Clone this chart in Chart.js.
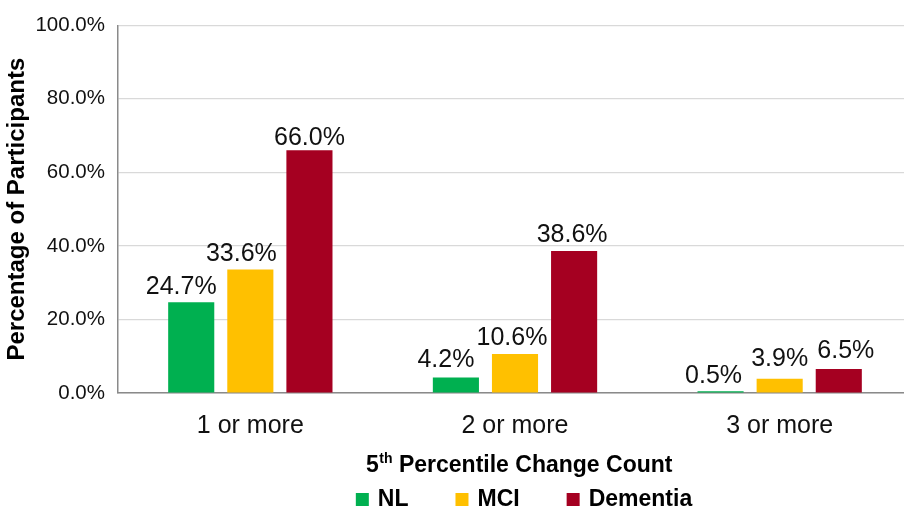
<!DOCTYPE html>
<html>
<head>
<meta charset="utf-8">
<script src="https://cdn.jsdelivr.net/npm/chart.js@4.4.1/dist/chart.umd.min.js"></script>
<style>
  html, body { margin: 0; padding: 0; background: #ffffff; overflow: hidden; }
  #wrap { position: relative; width: 912px; height: 510px; }
</style>
</head>
<body>
<div id="wrap"><canvas id="chart" width="912" height="510"></canvas></div>
<script>
// Share of participants by number of 5th-percentile changes, per diagnostic group
const categories = ['1 or more', '2 or more', '3 or more'];
const seriesNames = ['NL', 'MCI', 'Dementia'];
const nlValues = [24.7, 4.2, 0.5];
const mciValues = [33.6, 10.6, 3.9];
const dementiaValues = [66.0, 38.6, 6.5];
const yTickValues = [0, 20, 40, 60, 80, 100];
const yAxisTitle = 'Percentage of Participants';
const xTitleMain = '5';
const xTitleSup = 'th';
const xTitleRest = ' Percentile Change Count';

const seriesColors = ['#00B050', '#FFC000', '#A50021'];
const FONT = '"Liberation Sans", Arial, Helvetica, sans-serif';

// small nudges for value labels (dx, dy in px), per series then per category
const labelNudge = [
  [[-10, 0], [-10, -3], [-7, 0]],
  [[-9, 0], [-3, -1], [0, -5]],
  [[0, 3], [-2, -1], [7, -3]]
];

const valueLabels = {
  id: 'valueLabels',
  afterDatasetsDraw(chart) {
    const ctx = chart.ctx;
    ctx.save();
    ctx.font = '25px ' + FONT;
    ctx.fillStyle = '#111111';
    ctx.textAlign = 'center';
    ctx.textBaseline = 'alphabetic';
    chart.data.datasets.forEach((ds, di) => {
      const meta = chart.getDatasetMeta(di);
      meta.data.forEach((bar, i) => {
        const n = labelNudge[di][i];
        ctx.fillText(ds.data[i].toFixed(1) + '%', bar.x + n[0], bar.y - 8 + n[1]);
      });
    });
    ctx.restore();
  }
};

const bottomTexts = {
  id: 'bottomTexts',
  afterDraw(chart) {
    const ctx = chart.ctx;
    ctx.save();
    ctx.fillStyle = '#000000';
    ctx.textBaseline = 'alphabetic';
    ctx.textAlign = 'left';

    // axis title with superscript ordinal
    const mainFont = 'bold 23px ' + FONT;
    const supFont = 'bold 14px ' + FONT;
    ctx.font = mainFont;
    const w1 = ctx.measureText(xTitleMain).width;
    const w3 = ctx.measureText(xTitleRest).width;
    ctx.font = supFont;
    const w2 = ctx.measureText(xTitleSup).width;
    const cx = 519, baseY = 471.5;
    let x = cx - (w1 + w2 + w3) / 2;
    ctx.font = mainFont;
    ctx.fillText(xTitleMain, x, baseY);
    x += w1;
    ctx.font = supFont;
    ctx.fillText(xTitleSup, x + 0.5, baseY - 9);
    x += w2 + 0.5;
    ctx.font = mainFont;
    ctx.fillText(xTitleRest, x, baseY);

    // legend
    const box = 13, textGap = 9, itemGap = 47;
    ctx.font = 'bold 23px ' + FONT;
    const items = chart.data.datasets.map(ds => ({
      label: ds.label, color: ds.backgroundColor, w: ctx.measureText(ds.label).width
    }));
    const total = items.reduce((s, it) => s + box + textGap + it.w, 0) + itemGap * (items.length - 1);
    let lx = 524 - total / 2;
    const legBase = 506;
    items.forEach(it => {
      ctx.fillStyle = it.color;
      ctx.fillRect(lx, legBase - box, box, box);
      ctx.fillStyle = '#000000';
      ctx.fillText(it.label, lx + box + textGap, legBase);
      lx += box + textGap + it.w + itemGap;
    });
    ctx.restore();
  }
};

const seriesData = [nlValues, mciValues, dementiaValues];

new Chart(document.getElementById('chart'), {
  type: 'bar',
  data: {
    labels: categories,
    datasets: seriesNames.map((name, i) => ({
      label: name,
      data: seriesData[i],
      backgroundColor: seriesColors[i],
      borderWidth: 0,
      barPercentage: 0.78,
      categoryPercentage: 0.67
    }))
  },
  options: {
    responsive: false,
    devicePixelRatio: 1,
    animation: false,
    layout: { padding: { top: 21, right: 0, bottom: 0, left: 0 } },
    plugins: {
      legend: { display: false },
      tooltip: { enabled: false }
    },
    scales: {
      x: {
        grid: { display: false, drawTicks: false },
        border: { display: true, color: '#8a8a8a', width: 1.5 },
        ticks: { font: { family: FONT, size: 25 }, color: '#111111', padding: 18 },
        afterFit(scale) { scale.height = 117; }
      },
      y: {
        min: 0,
        max: 100,
        afterBuildTicks(scale) { scale.ticks = yTickValues.map(v => ({ value: v })); },
        grid: { color: '#d9d9d9', lineWidth: 1.2, drawTicks: false },
        border: { display: true, color: '#8a8a8a', width: 1.5 },
        ticks: {
          font: { family: FONT, size: 20.5 },
          color: '#111111',
          padding: 13,
          callback: v => v.toFixed(1) + '%'
        },
        title: {
          display: true,
          text: yAxisTitle,
          color: '#000000',
          font: { family: FONT, size: 24, weight: 'bold' },
          padding: { top: 3, bottom: 0 }
        },
        afterFit(scale) { scale.width = 118; }
      }
    }
  },
  plugins: [valueLabels, bottomTexts]
});
</script>
</body>
</html>
